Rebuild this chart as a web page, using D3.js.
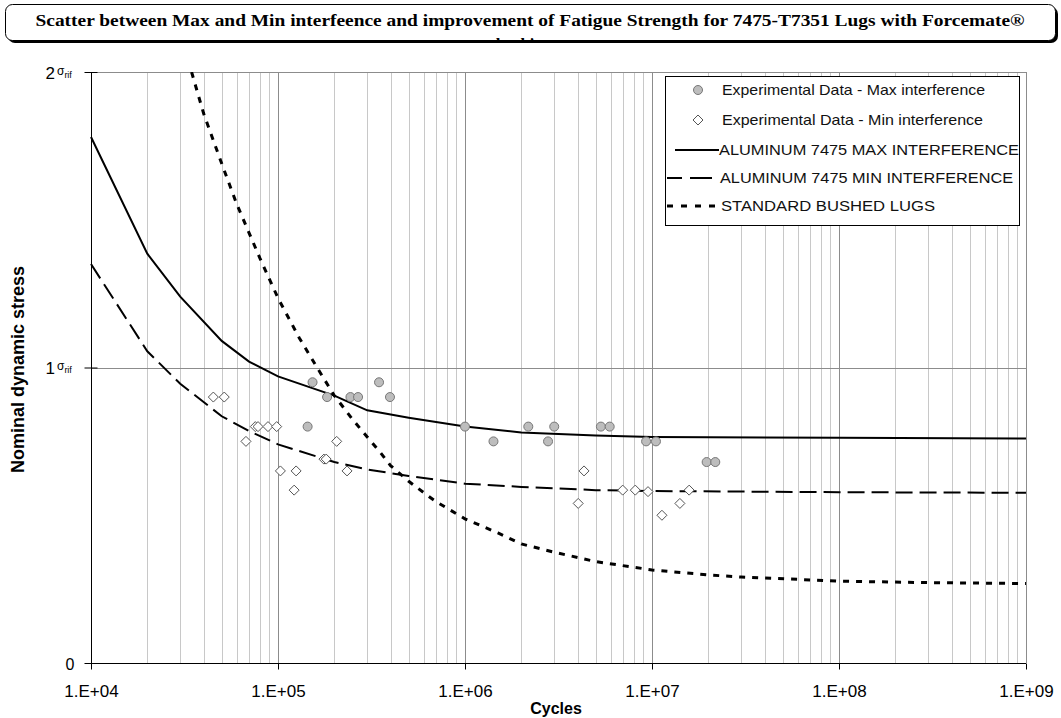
<!DOCTYPE html>
<html><head><meta charset="utf-8">
<script src="https://cdnjs.cloudflare.com/ajax/libs/d3/7.8.5/d3.min.js"></script>
<style>html,body{margin:0;padding:0;background:#fff;}svg{display:block;}</style>
</head><body>
<svg id="chart" width="1061" height="718"></svg>
<script>
// ---- data ----
const titleText = "Scatter between Max and Min interfeence and improvement of Fatigue Strength for 7475-T7351 Lugs with Forcemate®";
const titleLine2 = "bushings";
const xTickValues = [1e4, 1e5, 1e6, 1e7, 1e8, 1e9];
const xTickLabels = ["1.E+04", "1.E+05", "1.E+06", "1.E+07", "1.E+08", "1.E+09"];
const yTickValues = [0, 1, 2];
const yTickLabels = ["0", "1", "2"];

const maxExpN = [1.44e5, 1.53e5, 1.83e5, 2.44e5, 2.68e5, 3.47e5, 3.97e5, 1.0e6, 1.42e6, 2.18e6, 2.78e6, 3.0e6, 5.33e6, 5.94e6, 9.3e6, 1.05e7, 1.96e7, 2.18e7];
const maxExpS = [0.8, 0.95, 0.9, 0.9, 0.9, 0.95, 0.9, 0.8, 0.75, 0.8, 0.75, 0.8, 0.8, 0.8, 0.75, 0.75, 0.68, 0.68];

const minExpN = [4.51e4, 5.16e4, 6.74e4, 7.56e4, 7.82e4, 8.84e4, 9.84e4, 1.03e5, 1.22e5, 1.25e5, 1.76e5, 1.81e5, 2.06e5, 2.34e5, 4.03e6, 4.33e6, 6.97e6, 8.14e6, 9.52e6, 1.13e7, 1.41e7, 1.58e7];
const minExpS = [0.9, 0.9, 0.75, 0.8, 0.8, 0.8, 0.8, 0.65, 0.585, 0.65, 0.69, 0.69, 0.75, 0.65, 0.54, 0.65, 0.585, 0.585, 0.58, 0.5, 0.54, 0.585];

const maxCurveN = [1e4, 2e4, 3e4, 5e4, 7e4, 1e5, 2e5, 3e5, 5e5, 1e6, 2e6, 5e6, 1e7, 1e8, 1e9];
const maxCurveS = [1.78, 1.385, 1.24, 1.09, 1.02, 0.97, 0.905, 0.855, 0.83, 0.80, 0.78, 0.77, 0.765, 0.762, 0.76];

const minCurveN = [1e4, 2e4, 3e4, 5e4, 7e4, 1e5, 2e5, 3e5, 5e5, 1e6, 2e6, 5e6, 1e7, 1e8, 1e9];
const minCurveS = [1.35, 1.055, 0.945, 0.835, 0.785, 0.74, 0.68, 0.655, 0.633, 0.607, 0.596, 0.585, 0.582, 0.578, 0.576];

const stdCurveN = [3.45e4, 4e4, 5e4, 6e4, 8e4, 1e5, 1.3e5, 1.6e5, 2e5, 2.5e5, 3e5, 3.5e5, 4e5, 5e5, 6e5, 7e5, 1e6, 1.5e6, 2e6, 3e6, 5e6, 1e7, 2e7, 3e7, 6e7, 1e8, 3e8, 1e9];
const stdCurveS = [2.0, 1.86, 1.69, 1.555, 1.37, 1.235, 1.10, 1.005, 0.905, 0.825, 0.765, 0.715, 0.668, 0.615, 0.577, 0.546, 0.488, 0.44, 0.403, 0.375, 0.343, 0.315, 0.298, 0.291, 0.283, 0.277, 0.272, 0.269];

const legendLabels = ["Experimental Data - Max interference", "Experimental Data - Min interference", "ALUMINUM 7475 MAX INTERFERENCE", "ALUMINUM 7475 MIN INTERFERENCE", "STANDARD BUSHED LUGS"];

// ---- drawing ----
const svg = d3.select("#chart");
const L = 91, R = 1026, T = 72, B = 663;
const x = d3.scaleLog().domain([1e4, 1e9]).range([L, R]);
const y = d3.scaleLinear().domain([0, 2]).range([B, T]);

// title box
const defs = svg.append("defs");
defs.append("clipPath").attr("id", "titleClip").append("rect")
  .attr("x", 5).attr("y", 4).attr("width", 1050).attr("height", 36);
svg.append("rect").attr("x", 8).attr("y", 7).attr("width", 1050).attr("height", 36).attr("rx", 7).attr("fill", "#000");
svg.append("rect").attr("x", 5.5).attr("y", 4.5).attr("width", 1050).attr("height", 36).attr("rx", 7)
  .attr("fill", "#fff").attr("stroke", "#000").attr("stroke-width", 1);
svg.append("text").attr("x", 530).attr("y", 26).attr("text-anchor", "middle")
  .attr("font-family", "'Liberation Serif','Times New Roman',serif").attr("font-weight", "bold")
  .attr("font-size", 17).attr("textLength", 989).attr("lengthAdjust", "spacingAndGlyphs").text(titleText);
svg.append("g").attr("clip-path", "url(#titleClip)").append("text")
  .attr("x", 527).attr("y", 50).attr("text-anchor", "middle")
  .attr("font-family", "'Liberation Serif','Times New Roman',serif").attr("font-weight", "bold")
  .attr("font-size", 17).attr("textLength", 62).attr("lengthAdjust", "spacingAndGlyphs").text(titleLine2);

// grid
const minorTicks = [];
for (let e = 4; e < 9; e++) for (let k = 2; k <= 9; k++) minorTicks.push(k * Math.pow(10, e));
const grid = svg.append("g");
grid.selectAll("line.minor").data(minorTicks).join("line")
  .attr("x1", d => Math.round(x(d)) + 0.5).attr("x2", d => Math.round(x(d)) + 0.5)
  .attr("y1", T).attr("y2", B).attr("stroke", "#c8c8c8").attr("stroke-width", 1);
grid.selectAll("line.major").data(xTickValues.slice(1)).join("line")
  .attr("x1", d => Math.round(x(d)) + 0.5).attr("x2", d => Math.round(x(d)) + 0.5)
  .attr("y1", T).attr("y2", B).attr("stroke", "#8c8c8c").attr("stroke-width", 1);
grid.selectAll("line.h").data([1, 2]).join("line")
  .attr("x1", L).attr("x2", R).attr("y1", d => Math.round(y(d)) + 0.5).attr("y2", d => Math.round(y(d)) + 0.5)
  .attr("stroke", "#8c8c8c").attr("stroke-width", 1);

// axes
const xAxis = d3.axisBottom(x).tickValues(xTickValues).tickSize(6).tickFormat("");
const gx = svg.append("g").attr("transform", `translate(0,${B + 0.5})`).call(xAxis);
gx.select(".domain").attr("stroke", "#000").attr("d", `M${L},0H${R}`);
gx.selectAll(".tick line").attr("stroke", "#000");
gx.selectAll(".tick").append("text").attr("fill", "#000").attr("y", 33).attr("text-anchor", "middle")
  .attr("font-family", "'Liberation Sans',Arial,sans-serif").attr("font-size", 17)
  .text((d, i) => xTickLabels[i]);

const yAxis = d3.axisLeft(y).tickValues(yTickValues).tickSize(7).tickFormat("");
const gy = svg.append("g").attr("transform", `translate(${L + 0.5},0)`).call(yAxis);
gy.select(".domain").attr("stroke", "#000").attr("d", `M0,${B}V${T}`);
gy.selectAll(".tick line").attr("stroke", "#000").attr("x2", -7).attr("x1", 6);
gy.selectAll(".tick").each(function (d, i) {
  const t = d3.select(this).append("text").attr("fill", "#000").attr("text-anchor", "end")
    .attr("x", -17).attr("y", 6).attr("font-family", "'Liberation Sans',Arial,sans-serif");
  if (d === 0) {
    t.attr("font-size", 16).text(yTickLabels[i]);
  } else {
    t.attr("x", -46).attr("text-anchor", "start");
    t.append("tspan").attr("font-size", 17).text(yTickLabels[i]);
    t.append("tspan").attr("font-size", 12).attr("dx", 2).attr("dy", -4).text("σ");
    t.append("tspan").attr("font-size", 9).attr("dy", 3).text("rif");
  }
});

// axis titles
svg.append("text").attr("transform", `translate(24,${(T + B) / 2 + 2}) rotate(-90)`).attr("text-anchor", "middle")
  .attr("font-family", "'Liberation Sans',Arial,sans-serif").attr("font-weight", "bold").attr("font-size", 18)
  .text("Nominal dynamic stress");
svg.append("text").attr("x", 556).attr("y", 714).attr("text-anchor", "middle")
  .attr("font-family", "'Liberation Sans',Arial,sans-serif").attr("font-weight", "bold").attr("font-size", 16)
  .text("Cycles");

// curves
const plot = svg.append("g");
defs.append("clipPath").attr("id", "plotClip").append("rect").attr("x", L - 5).attr("y", T).attr("width", R - L + 5).attr("height", B - T);
const line = d3.line().x(d => x(d[0])).y(d => y(d[1]));
const curves = [
  { n: maxCurveN, s: maxCurveS, dash: null, w: 2 },
  { n: minCurveN, s: minCurveS, dash: "17,7", w: 2 },
  { n: stdCurveN, s: stdCurveS, dash: "6,7", w: 3 }
];
const cg = plot.append("g").attr("clip-path", "url(#plotClip)");
curves.forEach(c => {
  cg.append("path").datum(c.n.map((v, i) => [v, c.s[i]])).attr("d", line)
    .attr("fill", "none").attr("stroke", "#000").attr("stroke-width", c.w)
    .attr("stroke-dasharray", c.dash);
});

// markers
const diamond = (cx, cy, r) => `M${cx},${cy - r}L${cx + r},${cy}L${cx},${cy + r}L${cx - r},${cy}Z`;
plot.selectAll("path.dia").data(minExpN.map((v, i) => [v, minExpS[i]])).join("path")
  .attr("d", d => diamond(x(d[0]), y(d[1]), 5)).attr("fill", "#fff").attr("stroke", "#555").attr("stroke-width", 1);
plot.selectAll("circle.pt").data(maxExpN.map((v, i) => [v, maxExpS[i]])).join("circle")
  .attr("cx", d => x(d[0])).attr("cy", d => y(d[1])).attr("r", 4.5)
  .attr("fill", "#bdbdbd").attr("stroke", "#777").attr("stroke-width", 1);

// legend
const lg = svg.append("g");
lg.append("rect").attr("x", 665.5).attr("y", 76.5).attr("width", 354).attr("height", 149)
  .attr("fill", "#fff").attr("stroke", "#000").attr("stroke-width", 1);
const rowY = [90, 120, 150, 178, 206];
const textX = [722, 722, 719, 720, 721];
const textLen = [263, 261, 300, 293, 214];
lg.append("circle").attr("cx", 698).attr("cy", rowY[0]).attr("r", 4.5).attr("fill", "#bdbdbd").attr("stroke", "#777");
lg.append("path").attr("d", diamond(698, rowY[1], 5)).attr("fill", "#fff").attr("stroke", "#555");
lg.append("line").attr("x1", 675).attr("x2", 719).attr("y1", rowY[2]).attr("y2", rowY[2]).attr("stroke", "#000").attr("stroke-width", 2);
lg.append("line").attr("x1", 667).attr("x2", 712).attr("y1", rowY[3]).attr("y2", rowY[3]).attr("stroke", "#000").attr("stroke-width", 2).attr("stroke-dasharray", "15,8,22");
lg.append("line").attr("x1", 667).attr("x2", 717).attr("y1", rowY[4]).attr("y2", rowY[4]).attr("stroke", "#000").attr("stroke-width", 3).attr("stroke-dasharray", "6,8");
legendLabels.forEach((t, i) => {
  lg.append("text").attr("x", textX[i]).attr("y", rowY[i] + 5).attr("font-family", "'Liberation Sans',Arial,sans-serif")
    .attr("font-size", 14.5).attr("textLength", textLen[i]).attr("lengthAdjust", "spacingAndGlyphs").attr("fill", "#111").text(t);
});
</script>
</body></html>
